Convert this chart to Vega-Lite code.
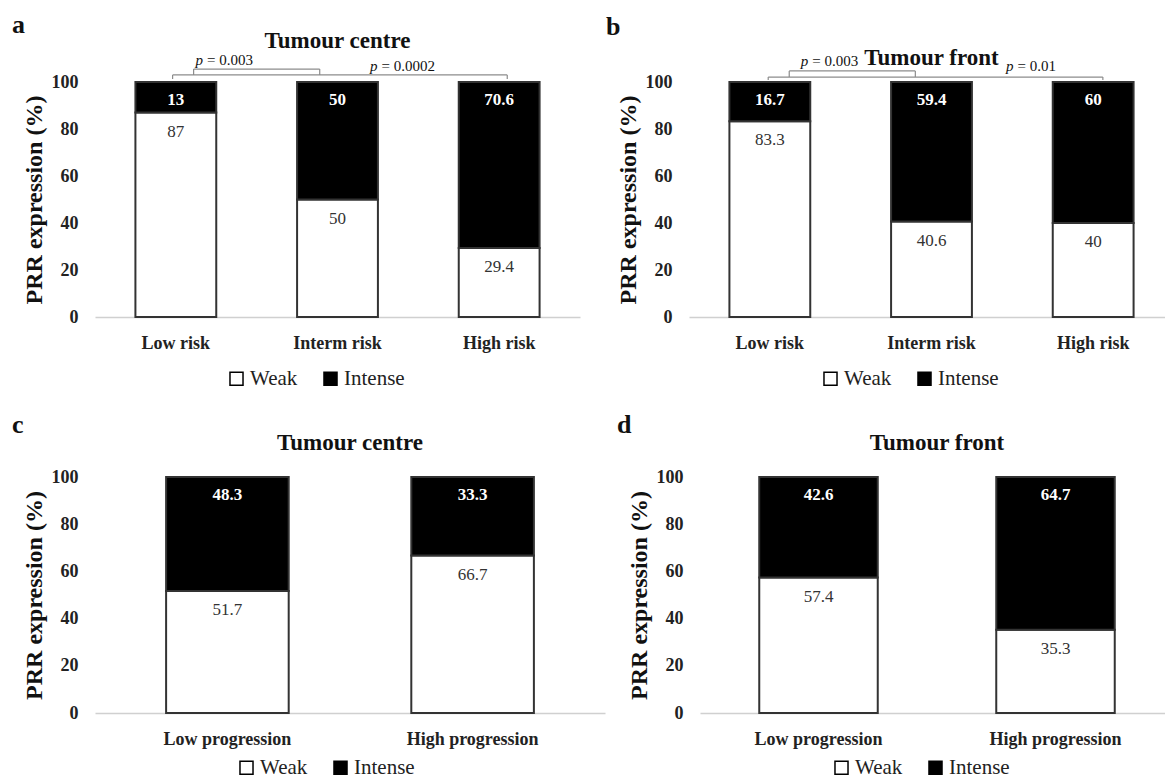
{
  "$schema": "https://vega.github.io/schema/vega-lite/v6.json",
  "background": "white",
  "padding": {"left": 12, "top": 11, "right": 0, "bottom": 0},
  "datasets": {
    "bars": [
      {"panel": "a", "cat": "Low risk", "type": "Weak", "pct": 87},
      {"panel": "a", "cat": "Low risk", "type": "Intense", "pct": 13},
      {"panel": "a", "cat": "Interm risk", "type": "Weak", "pct": 50},
      {"panel": "a", "cat": "Interm risk", "type": "Intense", "pct": 50},
      {"panel": "a", "cat": "High risk", "type": "Weak", "pct": 29.4},
      {"panel": "a", "cat": "High risk", "type": "Intense", "pct": 70.6},
      {"panel": "b", "cat": "Low risk", "type": "Weak", "pct": 83.3},
      {"panel": "b", "cat": "Low risk", "type": "Intense", "pct": 16.7},
      {"panel": "b", "cat": "Interm risk", "type": "Weak", "pct": 40.6},
      {"panel": "b", "cat": "Interm risk", "type": "Intense", "pct": 59.4},
      {"panel": "b", "cat": "High risk", "type": "Weak", "pct": 40},
      {"panel": "b", "cat": "High risk", "type": "Intense", "pct": 60},
      {"panel": "c", "cat": "Low progression", "type": "Weak", "pct": 51.7},
      {"panel": "c", "cat": "Low progression", "type": "Intense", "pct": 48.3},
      {"panel": "c", "cat": "High progression", "type": "Weak", "pct": 66.7},
      {"panel": "c", "cat": "High progression", "type": "Intense", "pct": 33.3},
      {"panel": "d", "cat": "Low progression", "type": "Weak", "pct": 57.4},
      {"panel": "d", "cat": "Low progression", "type": "Intense", "pct": 42.6},
      {"panel": "d", "cat": "High progression", "type": "Weak", "pct": 35.3},
      {"panel": "d", "cat": "High progression", "type": "Intense", "pct": 64.7}
    ],
    "brackets": [
      {"panel": "a", "x": 0.48, "x2": 2.55, "y": 103, "y2": 103},
      {"panel": "a", "x": 0.48, "x2": 0.48, "y": 103, "y2": 101.3},
      {"panel": "a", "x": 2.55, "x2": 2.55, "y": 103, "y2": 101.3},
      {"panel": "a", "x": 0.61, "x2": 1.39, "y": 105.5, "y2": 105.5},
      {"panel": "a", "x": 0.61, "x2": 0.61, "y": 105.5, "y2": 103},
      {"panel": "a", "x": 1.39, "x2": 1.39, "y": 105.5, "y2": 103},
      {"panel": "b", "x": 0.49, "x2": 2.56, "y": 102.1, "y2": 102.1},
      {"panel": "b", "x": 0.49, "x2": 0.49, "y": 102.1, "y2": 100.9},
      {"panel": "b", "x": 2.56, "x2": 2.56, "y": 102.1, "y2": 100.9},
      {"panel": "b", "x": 0.62, "x2": 1.4, "y": 104.7, "y2": 104.7},
      {"panel": "b", "x": 0.62, "x2": 0.62, "y": 104.7, "y2": 102.1},
      {"panel": "b", "x": 1.4, "x2": 1.4, "y": 104.7, "y2": 102.1}
    ],
    "pvals": [
      {"panel": "a", "x": 0.68, "y": 109.4, "p": "p", "rest": "= 0.003"},
      {"panel": "a", "x": 1.76, "y": 106.6, "p": "p", "rest": "= 0.0002"},
      {"panel": "b", "x": 0.75, "y": 109, "p": "p", "rest": "= 0.003"},
      {"panel": "b", "x": 2.02, "y": 106.8, "p": "p", "rest": "= 0.01"}
    ]
  },
  "config": {
    "view": {"stroke": null},
    "font": "Liberation Serif",
    "scale": {"bandPaddingInner": 0.5, "bandPaddingOuter": 0.25},
    "axis": {"grid": false, "ticks": false, "labelFont": "Liberation Serif", "labelFontWeight": "bold", "labelFontSize": 18, "labelColor": "#222", "titleFont": "Liberation Serif", "titleFontWeight": "bold", "titleFontSize": 24, "titleColor": "#111"},
    "axisX": {"domainColor": "#d0d0d0", "domainWidth": 1.5, "labelPadding": 17, "labelAngle": 0},
    "axisY": {"domain": false, "labelPadding": 17, "titlePadding": 5},
    "legend": {"orient": "none", "legendX": 131, "legendY": 286, "direction": "horizontal", "labelFont": "Liberation Serif", "labelFontSize": 21, "labelColor": "#222", "symbolType": "square", "symbolSize": 170, "symbolStrokeColor": "#000", "symbolStrokeWidth": 1.5, "columnPadding": 22, "labelOffset": 3},
    "title": {"font": "Liberation Serif", "fontSize": 23, "fontWeight": "bold", "color": "#111"}
  },
  "resolve": {"scale": {"fill": "independent"}, "legend": {"fill": "independent"}},
  "spacing": 23,
  "vconcat": [
    {
      "spacing": 26,
      "resolve": {"scale": {"fill": "independent"}, "legend": {"fill": "independent"}},
      "hconcat": [
        {
          "title": {"text": "a", "anchor": "start", "fontSize": 26, "offset": -8, "dx": -10},
          "vconcat": [
            {
              "width": 485, "height": 235,
              "title": {"text": "Tumour centre", "offset": 0},
              "resolve": {"scale": {"x": "independent"}, "axis": {"y": "independent"}},
              "layer": [
                {
                  "data": {"name": "bars"},
                  "transform": [
                    {"filter": "datum.panel == 'a'"},
                    {"stack": "pct", "groupby": ["cat"], "sort": [{"field": "type", "order": "descending"}], "as": ["y0", "y1"]}
                  ],
                  "layer": [
                    {
                      "mark": {"type": "bar", "stroke": "#333", "strokeWidth": 2},
                      "encoding": {
                        "x": {"field": "cat", "type": "nominal", "sort": null, "axis": {"title": null}},
                        "y": {"field": "y0", "type": "quantitative", "scale": {"domain": [0, 100]}, "axis": {"values": [0, 20, 40, 60, 80, 100], "title": "PRR expression (%)"}},
                        "y2": {"field": "y1"},
                        "fill": {"field": "type", "type": "nominal", "scale": {"domain": ["Weak", "Intense"], "range": ["#ffffff", "#000000"]}, "legend": {"title": null}}
                      }
                    },
                    {
                      "transform": [{"filter": "datum.type == 'Weak'"}],
                      "mark": {"type": "text", "baseline": "middle", "dy": 19, "fontSize": 17, "color": "#333"},
                      "encoding": {
                        "x": {"field": "cat", "type": "nominal", "sort": null},
                        "y": {"field": "y1", "type": "quantitative"},
                        "text": {"field": "pct", "type": "nominal"}
                      }
                    },
                    {
                      "transform": [{"filter": "datum.type == 'Intense'"}],
                      "mark": {"type": "text", "baseline": "middle", "dy": 18, "fontSize": 17, "fontWeight": "bold", "color": "#ffffff"},
                      "encoding": {
                        "x": {"field": "cat", "type": "nominal", "sort": null},
                        "y": {"field": "y1", "type": "quantitative"},
                        "text": {"field": "pct", "type": "nominal"}
                      }
                    }
                  ]
                },
                {
                  "data": {"name": "brackets"},
                  "transform": [{"filter": "datum.panel == 'a'"}],
                  "mark": {"type": "rule", "color": "#8c8c8c", "strokeWidth": 1.2},
                  "encoding": {
                    "x": {"field": "x", "type": "quantitative", "scale": {"domain": [0, 3], "nice": false, "zero": false}, "axis": null},
                    "x2": {"field": "x2"},
                    "y": {"field": "y", "type": "quantitative", "scale": {"domain": [0, 100]}, "axis": null},
                    "y2": {"field": "y2"}
                  }
                },
                {
                  "data": {"name": "pvals"},
                  "transform": [{"filter": "datum.panel == 'a'"}],
                  "layer": [
                    {
                      "mark": {"type": "text", "align": "right", "baseline": "middle", "dx": -2, "fontSize": 15, "fontStyle": "italic", "color": "#111"},
                      "encoding": {
                        "x": {"field": "x", "type": "quantitative", "scale": {"domain": [0, 3], "nice": false, "zero": false}, "axis": null},
                        "y": {"field": "y", "type": "quantitative", "scale": {"domain": [0, 100]}, "axis": null},
                        "text": {"field": "p"}
                      }
                    },
                    {
                      "mark": {"type": "text", "align": "left", "baseline": "middle", "dx": 2, "fontSize": 15, "color": "#111"},
                      "encoding": {
                        "x": {"field": "x", "type": "quantitative", "scale": {"domain": [0, 3], "nice": false, "zero": false}, "axis": null},
                        "y": {"field": "y", "type": "quantitative", "scale": {"domain": [0, 100]}, "axis": null},
                        "text": {"field": "rest"}
                      }
                    }
                  ]
                }
              ]
            }
          ]
        },
        {
          "title": {"text": "b", "anchor": "start", "fontSize": 26, "offset": 7, "dx": -10},
          "vconcat": [
            {
              "width": 485, "height": 235,
              "title": {"text": "Tumour front", "offset": -16},
              "resolve": {"scale": {"x": "independent"}, "axis": {"y": "independent"}},
              "layer": [
                {
                  "data": {"name": "bars"},
                  "transform": [
                    {"filter": "datum.panel == 'b'"},
                    {"stack": "pct", "groupby": ["cat"], "sort": [{"field": "type", "order": "descending"}], "as": ["y0", "y1"]}
                  ],
                  "layer": [
                    {
                      "mark": {"type": "bar", "stroke": "#333", "strokeWidth": 2},
                      "encoding": {
                        "x": {"field": "cat", "type": "nominal", "sort": null, "axis": {"title": null}},
                        "y": {"field": "y0", "type": "quantitative", "scale": {"domain": [0, 100]}, "axis": {"values": [0, 20, 40, 60, 80, 100], "title": "PRR expression (%)"}},
                        "y2": {"field": "y1"},
                        "fill": {"field": "type", "type": "nominal", "scale": {"domain": ["Weak", "Intense"], "range": ["#ffffff", "#000000"]}, "legend": {"title": null}}
                      }
                    },
                    {
                      "transform": [{"filter": "datum.type == 'Weak'"}],
                      "mark": {"type": "text", "baseline": "middle", "dy": 19, "fontSize": 17, "color": "#333"},
                      "encoding": {
                        "x": {"field": "cat", "type": "nominal", "sort": null},
                        "y": {"field": "y1", "type": "quantitative"},
                        "text": {"field": "pct", "type": "nominal"}
                      }
                    },
                    {
                      "transform": [{"filter": "datum.type == 'Intense'"}],
                      "mark": {"type": "text", "baseline": "middle", "dy": 18, "fontSize": 17, "fontWeight": "bold", "color": "#ffffff"},
                      "encoding": {
                        "x": {"field": "cat", "type": "nominal", "sort": null},
                        "y": {"field": "y1", "type": "quantitative"},
                        "text": {"field": "pct", "type": "nominal"}
                      }
                    }
                  ]
                },
                {
                  "data": {"name": "brackets"},
                  "transform": [{"filter": "datum.panel == 'b'"}],
                  "mark": {"type": "rule", "color": "#8c8c8c", "strokeWidth": 1.2},
                  "encoding": {
                    "x": {"field": "x", "type": "quantitative", "scale": {"domain": [0, 3], "nice": false, "zero": false}, "axis": null},
                    "x2": {"field": "x2"},
                    "y": {"field": "y", "type": "quantitative", "scale": {"domain": [0, 100]}, "axis": null},
                    "y2": {"field": "y2"}
                  }
                },
                {
                  "data": {"name": "pvals"},
                  "transform": [{"filter": "datum.panel == 'b'"}],
                  "layer": [
                    {
                      "mark": {"type": "text", "align": "right", "baseline": "middle", "dx": -2, "fontSize": 15, "fontStyle": "italic", "color": "#111"},
                      "encoding": {
                        "x": {"field": "x", "type": "quantitative", "scale": {"domain": [0, 3], "nice": false, "zero": false}, "axis": null},
                        "y": {"field": "y", "type": "quantitative", "scale": {"domain": [0, 100]}, "axis": null},
                        "text": {"field": "p"}
                      }
                    },
                    {
                      "mark": {"type": "text", "align": "left", "baseline": "middle", "dx": 2, "fontSize": 15, "color": "#111"},
                      "encoding": {
                        "x": {"field": "x", "type": "quantitative", "scale": {"domain": [0, 3], "nice": false, "zero": false}, "axis": null},
                        "y": {"field": "y", "type": "quantitative", "scale": {"domain": [0, 100]}, "axis": null},
                        "text": {"field": "rest"}
                      }
                    }
                  ]
                }
              ]
            }
          ]
        }
      ]
    },
    {
      "spacing": 12,
      "resolve": {"scale": {"fill": "independent"}, "legend": {"fill": "independent"}},
      "hconcat": [
        {
          "title": {"text": "c", "anchor": "start", "fontSize": 26, "offset": -6, "dx": -10},
          "vconcat": [
            {
              "width": 510, "height": 236,
              "title": {"text": "Tumour centre", "offset": 13},
              "data": {"name": "bars"},
              "transform": [
                {"filter": "datum.panel == 'c'"},
                {"stack": "pct", "groupby": ["cat"], "sort": [{"field": "type", "order": "descending"}], "as": ["y0", "y1"]}
              ],
              "layer": [
                {
                  "mark": {"type": "bar", "stroke": "#333", "strokeWidth": 2},
                  "encoding": {
                    "x": {"field": "cat", "type": "nominal", "sort": null, "scale": {"paddingOuter": 0.29}, "axis": {"title": null}},
                    "y": {"field": "y0", "type": "quantitative", "scale": {"domain": [0, 100]}, "axis": {"values": [0, 20, 40, 60, 80, 100], "title": "PRR expression (%)"}},
                    "y2": {"field": "y1"},
                    "fill": {"field": "type", "type": "nominal", "scale": {"domain": ["Weak", "Intense"], "range": ["#ffffff", "#000000"]}, "legend": {"title": null, "legendX": 141, "legendY": 280}}
                  }
                },
                {
                  "transform": [{"filter": "datum.type == 'Weak'"}],
                  "mark": {"type": "text", "baseline": "middle", "dy": 19, "fontSize": 17, "color": "#333"},
                  "encoding": {
                    "x": {"field": "cat", "type": "nominal", "sort": null},
                    "y": {"field": "y1", "type": "quantitative"},
                    "text": {"field": "pct", "type": "nominal"}
                  }
                },
                {
                  "transform": [{"filter": "datum.type == 'Intense'"}],
                  "mark": {"type": "text", "baseline": "middle", "dy": 18, "fontSize": 17, "fontWeight": "bold", "color": "#ffffff"},
                  "encoding": {
                    "x": {"field": "cat", "type": "nominal", "sort": null},
                    "y": {"field": "y1", "type": "quantitative"},
                    "text": {"field": "pct", "type": "nominal"}
                  }
                }
              ]
            }
          ]
        },
        {
          "title": {"text": "d", "anchor": "start", "fontSize": 26, "offset": -6, "dx": -10},
          "vconcat": [
            {
              "width": 474, "height": 236,
              "title": {"text": "Tumour front", "offset": 13},
              "data": {"name": "bars"},
              "transform": [
                {"filter": "datum.panel == 'd'"},
                {"stack": "pct", "groupby": ["cat"], "sort": [{"field": "type", "order": "descending"}], "as": ["y0", "y1"]}
              ],
              "layer": [
                {
                  "mark": {"type": "bar", "stroke": "#333", "strokeWidth": 2},
                  "encoding": {
                    "x": {"field": "cat", "type": "nominal", "sort": null, "axis": {"title": null}},
                    "y": {"field": "y0", "type": "quantitative", "scale": {"domain": [0, 100]}, "axis": {"values": [0, 20, 40, 60, 80, 100], "title": "PRR expression (%)"}},
                    "y2": {"field": "y1"},
                    "fill": {"field": "type", "type": "nominal", "scale": {"domain": ["Weak", "Intense"], "range": ["#ffffff", "#000000"]}, "legend": {"title": null, "legendY": 280}}
                  }
                },
                {
                  "transform": [{"filter": "datum.type == 'Weak'"}],
                  "mark": {"type": "text", "baseline": "middle", "dy": 19, "fontSize": 17, "color": "#333"},
                  "encoding": {
                    "x": {"field": "cat", "type": "nominal", "sort": null},
                    "y": {"field": "y1", "type": "quantitative"},
                    "text": {"field": "pct", "type": "nominal"}
                  }
                },
                {
                  "transform": [{"filter": "datum.type == 'Intense'"}],
                  "mark": {"type": "text", "baseline": "middle", "dy": 18, "fontSize": 17, "fontWeight": "bold", "color": "#ffffff"},
                  "encoding": {
                    "x": {"field": "cat", "type": "nominal", "sort": null},
                    "y": {"field": "y1", "type": "quantitative"},
                    "text": {"field": "pct", "type": "nominal"}
                  }
                }
              ]
            }
          ]
        }
      ]
    }
  ]
}
